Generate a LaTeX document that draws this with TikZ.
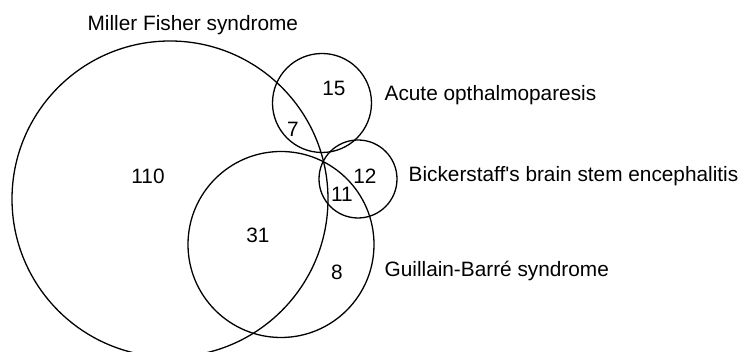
\documentclass[tikz,border=0pt]{standalone}
\usepackage{fontspec}
\newfontfamily\vennfont{Liberation Sans}
\begin{document}
\begin{tikzpicture}[x=0.5pt, y=0.5pt, line width=0.65pt, every node/.style={font=\vennfont\fontsize{10.4}{12}\selectfont, inner sep=0pt}]{
    \useasboundingbox (0,0) rectangle (746,352);

    \draw (170,153) circle (158);
    \draw (322,249) circle (49.5);
    \draw (358,173) circle (39);
    \draw (281,107.5) circle (93);

    \node [anchor=base west] (MFS) at (87,321) {Miller Fisher syndrome};
    \node [anchor=base west] (AO) at (384,251) {Acute opthalmoparesis};
    \node [anchor=base west] (BBE) at (408,170) {Bickerstaff's brain stem encephalitis};
    \node [anchor=base west] (GBS) at (384,75) {Guillain-Barré syndrome};

    \node (n110) at (148,176) {110};
    \node (n15) at (334,264) {15};
    \node (n7) at (293,223) {7};
    \node (n12) at (365,176) {12};
    \node (n11) at (342,158) {11};
    \node (n31) at (258,117) {31};
    \node (n8) at (337,80) {8};
    }
\end{tikzpicture}
\end{document}
